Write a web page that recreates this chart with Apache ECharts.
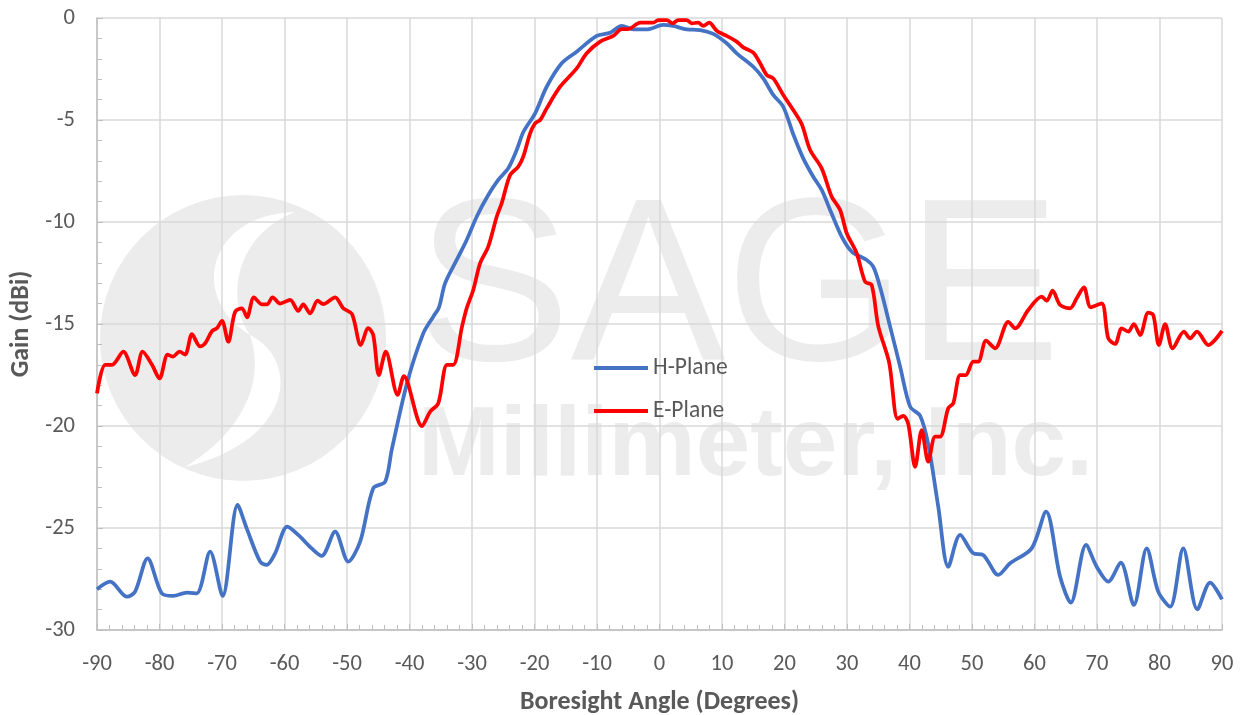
<!DOCTYPE html>
<html>
<head>
<meta charset="utf-8">
<script src="https://cdn.jsdelivr.net/npm/echarts@6/dist/echarts.min.js"></script>
<style>
html,body{margin:0;padding:0;background:#fff;}
#chart{width:1243px;height:715px;}
</style>
</head>
<body>
<div id="chart"></div>
<script>
// ---- Data ----
const xTickLabels = [-90,-80,-70,-60,-50,-40,-30,-20,-10,0,10,20,30,40,50,60,70,80,90];
const yTickLabels = [0,-5,-10,-15,-20,-25,-30];
const seriesNames = ['H-Plane','E-Plane'];

const hAngle = [-90,-87.9,-85.2,-83.9,-81.9,-79.65,-77.8,-75.65,-74.05,-71.9,-69.9,-67.5,-66.05,-63.9,-62.85,-61.5,-59.55,-57.8,-55.65,-54.05,-51.9,-49.8,-47.9,-45.8,-43.9,-42.85,-40.4,-37.8,-36.2,-35.3,-34.3,-32.45,-30.85,-29.25,-27.4,-25.8,-24.2,-22.85,-21.8,-19.9,-18.05,-15.65,-13.25,-10.05,-7.9,-6.05,-4.2,-2.05,0.6,2.2,4.35,6.5,8.6,10.75,12.35,15.0,16.6,18.2,19.8,21.4,23.0,24.6,25.95,27.3,29.15,30.75,33.15,34.2,35.3,36.9,38.5,40.1,41.7,43.0,44.6,46.2,48.1,50.2,51.8,54.2,56.1,59.55,61.85,64.1,65.8,68.25,69.95,71.8,73.8,75.9,77.95,79.8,81.7,83.8,86.05,88.1,90];
const hGain = [-28.0,-27.63,-28.37,-28.12,-26.49,-28.2,-28.33,-28.17,-28.2,-26.16,-28.33,-23.87,-25.02,-26.65,-26.81,-26.24,-24.93,-25.34,-26.0,-26.37,-25.18,-26.65,-25.67,-23.05,-22.73,-21.18,-17.9,-15.46,-14.64,-14.2,-13.0,-11.86,-10.88,-9.74,-8.68,-7.94,-7.37,-6.47,-5.6,-4.67,-3.37,-2.22,-1.65,-0.88,-0.72,-0.38,-0.56,-0.56,-0.34,-0.39,-0.56,-0.59,-0.78,-1.24,-1.73,-2.39,-2.96,-3.77,-4.35,-5.7,-6.88,-7.78,-8.43,-9.41,-10.72,-11.45,-11.86,-12.19,-13.2,-15.13,-17.09,-19.05,-19.5,-20.9,-23.95,-26.9,-25.34,-26.24,-26.32,-27.3,-26.73,-26.0,-24.2,-27.39,-28.66,-25.83,-26.9,-27.63,-26.7,-28.77,-26.0,-28.12,-28.86,-26.0,-28.99,-27.68,-28.5];

const eAngle = [-90,-88.7,-87.6,-85.8,-83.9,-82.7,-81.2,-80.0,-78.7,-77.9,-76.8,-75.9,-74.8,-73.5,-72.7,-71.6,-70.8,-70.0,-69.0,-67.9,-66.8,-66.0,-64.9,-63.6,-62.8,-61.9,-60.7,-59.1,-57.8,-57.0,-55.9,-54.7,-53.8,-51.9,-50.6,-49.2,-47.8,-46.6,-45.8,-44.9,-43.8,-41.9,-40.9,-38.0,-36.7,-35.4,-34.0,-33.0,-31.6,-30.85,-29.8,-28.7,-27.4,-26.05,-25.25,-23.9,-22.6,-21.8,-20.7,-19.9,-19.1,-18.05,-15.9,-13.25,-11.65,-9.5,-7.4,-6.05,-5.0,-3.1,-1.0,-0.2,1.15,2.1,3.0,4.35,5.15,6.2,7.0,7.95,9.15,10.75,12.35,13.4,15.0,16.1,17.15,18.2,19.8,21.4,22.75,24.1,25.95,27.55,28.9,29.95,31.55,32.9,33.95,35.0,36.75,38.1,39.0,39.8,40.9,41.95,43.0,44.1,44.9,46.2,47.0,48.1,49.0,50.2,51.0,52.25,53.7,55.8,56.9,59.0,61.15,61.95,62.9,64.1,65.7,66.75,67.9,69.0,70.75,71.8,72.9,73.95,75.0,75.9,76.9,78.2,79.0,79.9,80.9,82.1,83.9,84.9,86.0,87.8,90];
const eGain = [-18.4,-17.0,-17.0,-16.36,-17.5,-16.36,-17.0,-17.67,-16.5,-16.6,-16.36,-16.5,-15.5,-16.1,-15.95,-15.35,-15.2,-14.85,-15.87,-14.4,-14.23,-14.67,-13.69,-14.04,-14.04,-13.69,-14.0,-13.82,-14.36,-14.04,-14.48,-13.86,-14.02,-13.69,-14.23,-14.51,-16.03,-15.2,-15.54,-17.5,-16.36,-18.48,-17.56,-20.0,-19.3,-18.89,-17.0,-17.0,-15.13,-14.23,-13.33,-12.02,-11.21,-9.74,-9.08,-7.7,-7.29,-6.8,-5.65,-5.16,-5.0,-4.43,-3.37,-2.47,-1.73,-1.16,-0.88,-0.54,-0.54,-0.23,-0.23,-0.1,-0.1,-0.26,-0.1,-0.1,-0.26,-0.23,-0.39,-0.23,-0.62,-0.88,-1.16,-1.44,-1.7,-2.22,-2.79,-2.96,-3.77,-4.51,-5.2,-6.47,-7.37,-8.76,-9.41,-10.55,-11.53,-12.93,-13.09,-15.1,-16.9,-19.65,-19.5,-19.9,-22.0,-20.2,-21.75,-20.52,-20.52,-19.13,-18.89,-17.5,-17.5,-16.85,-16.85,-15.82,-16.19,-14.89,-15.21,-14.31,-13.66,-13.86,-13.37,-14.07,-14.23,-13.74,-13.2,-14.18,-13.99,-15.7,-15.98,-15.21,-15.37,-15.0,-15.54,-14.44,-14.56,-16.03,-15.0,-16.19,-15.37,-15.7,-15.37,-16.03,-15.34];

// ---- Build chart ----
const FONT = 'Carlito, Lato, "Open Sans", sans-serif';
const TXT = '#595959';
const WM = '#ececec';
const pair = (xs, ys) => xs.map((x, i) => [x, ys[i]]);

// watermark logo helper: crescent outline from two cubic curves (decoration only)
function bez(p0, p1, p2, p3, n) {
  const out = [];
  for (let i = 0; i <= n; i++) {
    const t = i / n, u = 1 - t;
    out.push([
      u*u*u*p0[0] + 3*u*u*t*p1[0] + 3*u*t*t*p2[0] + t*t*t*p3[0],
      u*u*u*p0[1] + 3*u*u*t*p1[1] + 3*u*t*t*p2[1] + t*t*t*p3[1]
    ]);
  }
  return out;
}
const crescentA = bez([295,212],[205,215],[190,300],[250,335],30).concat(bez([250,335],[225,300],[235,235],[295,212],30));
const crescentB = bez([250,335],[300,360],[295,440],[185,467],30).concat(bez([185,467],[245,430],[265,380],[250,335],30));

const chart = echarts.init(document.getElementById('chart'), null, {renderer: 'canvas'});
chart.setOption({
  animation: false,
  backgroundColor: '#ffffff',
  textStyle: {fontFamily: FONT},
  grid: {left: 97, right: 21, top: 18, bottom: 85, containLabel: false, outerBoundsMode: 'none'},
  graphic: {
    elements: [
      {type: 'circle', z: -10, silent: true, shape: {cx: 243, cy: 338, r: 143}, style: {fill: WM}},
      {type: 'polygon', z: -9, silent: true, shape: {points: crescentA}, style: {fill: '#ffffff'}},
      {type: 'polygon', z: -9, silent: true, shape: {points: crescentB}, style: {fill: '#ffffff'}},
      {type: 'text', z: -9, silent: true, x: 416, y: 180, style: {text: 'SAGE', fill: WM, font: '232px "Liberation Sans", Arial, sans-serif'}},
      {type: 'text', z: -9, silent: true, x: 418, y: 399, style: {text: 'Millimeter, Inc.', fill: WM, font: 'bold 98px "Liberation Sans", Arial, sans-serif'}}
    ]
  },
  legend: {
    orient: 'vertical',
    left: 589, top: 351,
    itemWidth: 54, itemHeight: 14, itemGap: 19,
    icon: 'path://M0,0 L40,0 L40,3 L0,3 Z',
    textStyle: {color: TXT, fontSize: 23.5, fontFamily: FONT},
    data: seriesNames
  },
  xAxis: {
    type: 'value', min: -90, max: 90, interval: 10,
    name: 'Boresight Angle (Degrees)', nameLocation: 'middle', nameGap: 59,
    nameTextStyle: {color: TXT, fontSize: 26, fontWeight: 'bold', fontFamily: FONT},
    axisLine: {show: true, onZero: false, lineStyle: {color: '#bfbfbf', width: 1.5}},
    axisTick: {show: true, inside: true, length: 6, lineStyle: {color: '#bfbfbf'}},
    minorTick: {show: true, splitNumber: 5, length: 5, lineStyle: {color: '#bfbfbf'}},
    splitLine: {show: true, lineStyle: {color: '#d9d9d9', width: 1.5}},
    axisLabel: {color: TXT, fontSize: 22.5, margin: 23, fontFamily: FONT,
      formatter: v => xTickLabels.includes(v) ? String(v) : ''}
  },
  yAxis: {
    type: 'value', min: -30, max: 0, interval: 5,
    name: 'Gain (dBi)', nameLocation: 'middle', nameGap: 55,
    nameTextStyle: {color: TXT, fontSize: 26, fontWeight: 'bold', fontFamily: FONT},
    axisLine: {show: true, onZero: false, lineStyle: {color: '#bfbfbf', width: 1.5}},
    axisTick: {show: true, inside: true, length: 6, lineStyle: {color: '#bfbfbf'}},
    minorTick: {show: true, splitNumber: 5, length: 5, lineStyle: {color: '#bfbfbf'}},
    splitLine: {show: true, lineStyle: {color: '#d9d9d9', width: 1.5}},
    axisLabel: {color: TXT, fontSize: 22.5, margin: 22, fontFamily: FONT,
      formatter: v => yTickLabels.includes(v) ? String(v) : ''}
  },
  series: [
    {name: seriesNames[0], type: 'line', data: pair(hAngle, hGain), smooth: 0.3,
      symbol: 'none', lineStyle: {color: '#4472C4', width: 3.75}, itemStyle: {color: '#4472C4'}, z: 3},
    {name: seriesNames[1], type: 'line', data: pair(eAngle, eGain), smooth: 0.3,
      symbol: 'none', lineStyle: {color: '#FF0000', width: 3.75}, itemStyle: {color: '#FF0000'}, z: 4}
  ]
});
</script>
</body>
</html>
